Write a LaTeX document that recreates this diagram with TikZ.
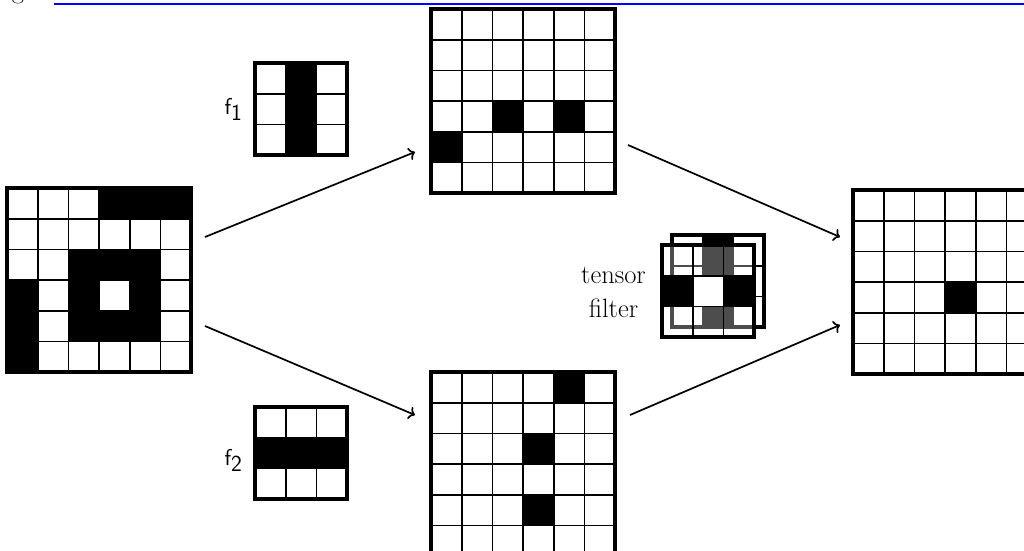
\documentclass[tikz,border=0pt]{standalone}
\usetikzlibrary{arrows.meta}
\def\cs{30.7}
\newcommand\pixgrid[4]{% #1 name, #2 top-left, #3 size, #4 black cells row/col
  \begin{scope}[shift={#2}]
    \foreach \r/\c in {#4} {\fill[black] (\c*\cs,\r*\cs) rectangle ++(\cs,\cs);}
    \pgfmathtruncatemacro\nm{#3-1}
    \foreach \i in {1,...,\nm} {
      \draw[cellline] (\i*\cs,0) -- (\i*\cs,#3*\cs);
      \draw[cellline] (0,\i*\cs) -- (#3*\cs,\i*\cs);}
    \node[gridframe,anchor=north west,minimum size={#3*\cs}] (#1) at (0,0) {};
  \end{scope}}
\begin{document}
\begin{tikzpicture}[x=1pt,y=-1pt,
  cellline/.style={line width=1.8pt},
  gridframe/.style={draw,line width=3.6pt,inner sep=0pt,outer sep=0pt},
  arr/.style={-{To[length=6pt,width=13pt]},line width=1.7pt},
  lbl/.style={font=\fontsize{26.5}{31}\selectfont},
  flbl/.style={font=\fontsize{23}{27}\selectfont}]
\useasboundingbox (0,0) rectangle (1024,550);
% page fragment at the top
\node[lbl,anchor=base] (gfrag) at (18,-2) {g};
\coordinate (rulea) at (54,4);
\coordinate (ruleb) at (1024,4);
\draw[blue,line width=2.8pt] (rulea) -- (ruleb);
% grids
\pixgrid{input}{(7,188)}{6}{0/3,0/4,0/5,2/2,2/3,2/4,3/0,3/2,3/4,4/0,4/2,4/3,4/4,5/0}
\pixgrid{outA}{(431,9)}{6}{3/2,3/4,4/0}
\pixgrid{outB}{(431,372)}{6}{0/4,2/3,4/3}
\pixgrid{result}{(853,190)}{6}{3/3}
\pixgrid{fone}{(255,63)}{3}{0/1,1/1,2/1}
\pixgrid{ftwo}{(255,407)}{3}{1/0,1/1,1/2}
% tensor filter
\fill[white] (672,235) rectangle ++(3*\cs,3*\cs);
\pixgrid{tback}{(672,235)}{3}{0/1,1/1,2/1}
\fill[white,fill opacity=0.3] (662,245) rectangle ++(3*\cs,3*\cs);
\fill[white] (662+\cs,245+\cs) rectangle ++(\cs,\cs);
\pixgrid{tfront}{(662,245)}{3}{1/0,1/2}
% labels
\node[flbl,anchor=base east] (lf1) at (246,114) {$\textsf{f}_{\textsf{1}}$};
\node[flbl,anchor=base east] (lf2) at (246,465) {$\textsf{f}_{\textsf{2}}$};
\node[lbl,anchor=base] (ltensor) at (613.5,283) {tensor};
\node[lbl,anchor=base] (lfilter) at (613.5,317) {filter};
% arrows
\coordinate (a1s) at (205,237); \coordinate (a1e) at (415,152);
\coordinate (a2s) at (205,326); \coordinate (a2e) at (415,415);
\coordinate (a3s) at (628,145); \coordinate (a3e) at (840,237);
\coordinate (a4s) at (630,415); \coordinate (a4e) at (840,325);
\draw[arr] (a1s) -- (a1e);
\draw[arr] (a2s) -- (a2e);
\draw[arr] (a3s) -- (a3e);
\draw[arr] (a4s) -- (a4e);
\end{tikzpicture}
\end{document}
